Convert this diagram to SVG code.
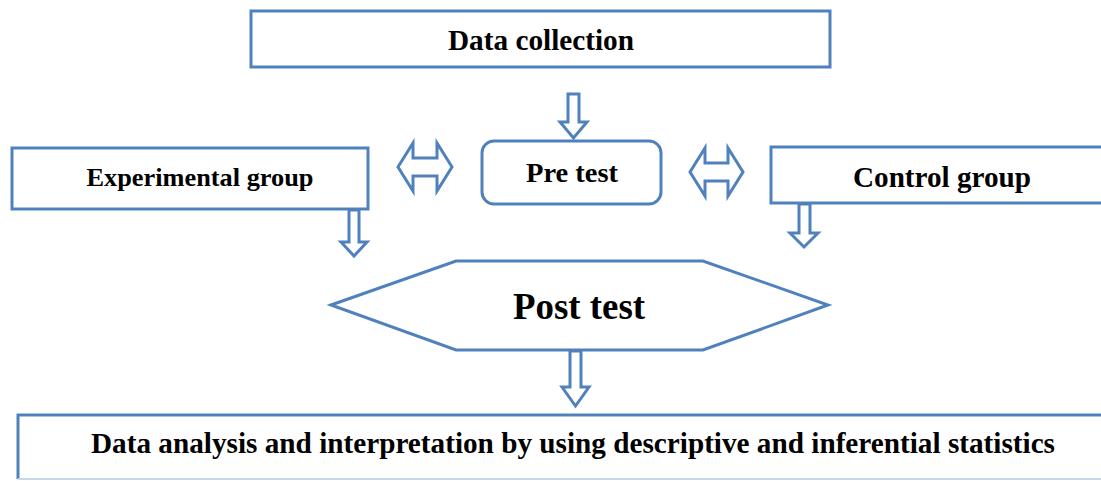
<svg xmlns="http://www.w3.org/2000/svg" width="1101" height="481" viewBox="0 0 1101 481">
<style>
.box{fill:#fff;stroke:#4f81bd;stroke-width:3}
.arr{fill:#fff;stroke:#4f81bd;stroke-width:3;stroke-linejoin:miter}
text{font-family:"Liberation Serif","Times New Roman",serif;font-weight:bold;fill:#000;text-anchor:middle}
</style>
<rect width="1101" height="481" fill="#fff"/>
<g id="data-collection">
<rect class="box" x="251" y="11" width="579" height="56"/>
<text x="541" y="50" font-size="29" textLength="186" lengthAdjust="spacingAndGlyphs">Data collection</text>
</g>
<g id="experimental-group">
<rect class="box" x="12" y="148" width="356" height="61"/>
<text x="200" y="186" font-size="26" textLength="227" lengthAdjust="spacingAndGlyphs">Experimental group</text>
</g>
<g id="pre-test">
<rect class="box" x="482" y="141" width="179" height="63" rx="12"/>
<text x="572" y="182" font-size="28" textLength="92" lengthAdjust="spacingAndGlyphs">Pre test</text>
</g>
<g id="control-group">
<rect class="box" x="771" y="147" width="340" height="56"/>
<text x="942" y="187" font-size="29" textLength="178" lengthAdjust="spacingAndGlyphs">Control group</text>
</g>
<g id="post-test">
<polygon class="box" points="331,305 456,261 703,261 828,305 703,350 456,350"/>
<text x="579" y="319" font-size="37" textLength="132" lengthAdjust="spacingAndGlyphs">Post test</text>
</g>
<g id="data-analysis">
<path d="M18,479 V415 H1110" fill="none" stroke="#4f81bd" stroke-width="3"/>
<path d="M18,479 H1110" fill="none" stroke="#c6d7ec" stroke-width="2"/>
<text x="573" y="453" font-size="29" textLength="964" lengthAdjust="spacingAndGlyphs">Data analysis and interpretation by using descriptive and inferential statistics</text>
</g>
<g id="connectors">
<path class="arr" d="M568,94 H579 V122 H587 L573.5,138 L560,122 H568 Z"/>
<path class="arr" d="M349,210 H359 V242 H367 L354,256 L341,242 H349 Z"/>
<path class="arr" d="M799,204 H810 V233 H818 L804,247 L790,233 H799 Z"/>
<path class="arr" d="M570,351 H581 V387 H589 L575.5,406 L562,387 H570 Z"/>
<path class="arr" d="M398,167 L413,143 V158 H437 V143 L452,167 L437,191 V176 H413 V191 Z"/>
<path class="arr" d="M690,172 L705,148 V163 H728 V148 L743,172 L728,196 V181 H705 V196 Z"/>
</g>
</svg>
